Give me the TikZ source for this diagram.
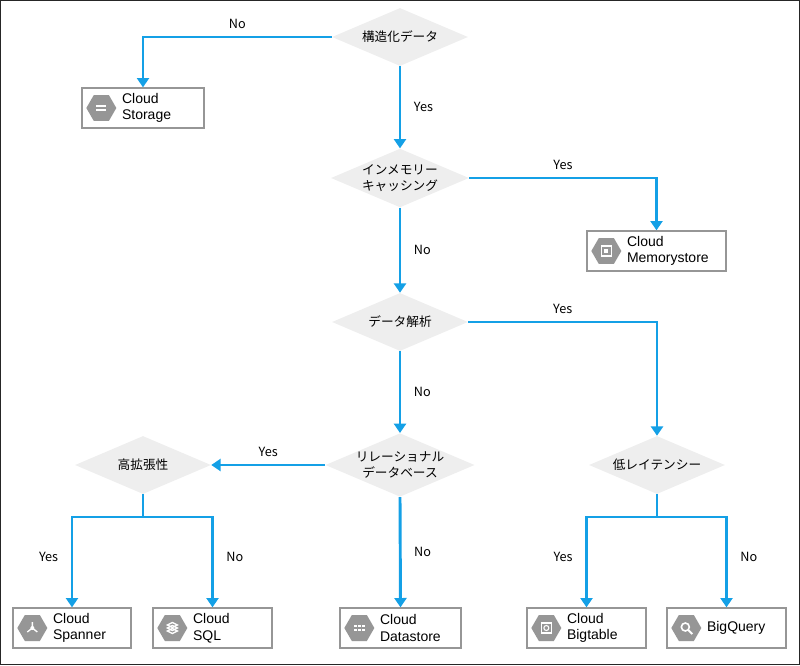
\documentclass[tikz,border=0pt]{standalone}
\usepackage{fontspec}
\setmainfont{Liberation Sans}
\newfontfamily\jp{Noto Sans CJK JP}
\usetikzlibrary{shapes.geometric,arrows.meta}
\definecolor{ln}{RGB}{20,160,230}
\definecolor{dg}{RGB}{238,238,238}
\definecolor{bx}{RGB}{150,150,150}
\definecolor{ic}{RGB}{150,150,150}
\begin{document}
\begin{tikzpicture}[x=0.75pt,y=-0.75pt,
  dia/.style={diamond,aspect=2.35,fill=dg,draw=none,minimum width=136*0.75pt,minimum height=58*0.75pt,inner sep=0pt,font=\jp\fontsize{9.5}{11.5}\selectfont,align=center},
  box/.style={rectangle,draw=bx,line width=1pt,fill=white,minimum width=#1*0.75pt,minimum height=40*0.75pt,inner sep=0pt},
  hex/.style={regular polygon,regular polygon sides=6,shape border rotate=0,fill=ic,minimum size=30*0.75pt,inner sep=0pt},
  lbl/.style={anchor=west,font=\fontsize{10.5}{12.5}\selectfont,align=left},
  yn/.style={black,font=\jp\fontsize{9.5}{11}\selectfont},
  con/.style={ln,line width=2.2pt},
  arr/.style={con,-{Triangle[width=9pt,length=7pt]}}]
\useasboundingbox (0,0) rectangle (800,665);
\draw[line width=1pt,black!85] (0.5,0.5) rectangle (799.5,664.5);
% diamonds
\node[dia] (d1) at (400,37) {構造化データ};
\node[dia] (d2) at (400,178) {インメモリー\\キャッシング};
\node[dia] (d3) at (400,322) {データ解析};
\node[dia] (d4) at (400,465) {リレーショナル\\データベース};
\node[dia] (d5) at (657,465) {低レイテンシー};
\node[dia] (d6) at (143,465) {高拡張性};
% boxes
\node[box=122] (bs) at (143,108) {};
\node[box=139] (bm) at (656.5,251) {};
\node[box=118] (bsp) at (72,628) {};
\node[box=119] (bsq) at (212.5,628) {};
\node[box=121] (bds) at (400.5,628) {};
\node[box=119] (bbt) at (586.5,628) {};
\node[box=119] (bbq) at (726.5,628) {};
% icons + labels
\foreach \b/\t in {bs/{Cloud\\Storage},bm/{Cloud\\Memorystore},bsp/{Cloud\\Spanner},bsq/{Cloud\\SQL},bds/{Cloud\\Datastore},bbt/{Cloud\\Bigtable}}{
  \node[hex] (\b i) at ([xshift=20*0.75pt]\b.west) {};
  \node[lbl] (\b t) at ([xshift=36*0.75pt]\b.west) {\t};
}
\node[hex] (bbqi) at ([xshift=20*0.75pt]bbq.west) {};
\node[lbl] (bbqt) at ([xshift=36*0.75pt]bbq.west) {BigQuery};
% icon glyphs
\fill[white] ([shift={(-5,-3)}]bsi.center) rectangle ([shift={(5,-1)}]bsi.center);
\fill[white] ([shift={(-5,1)}]bsi.center) rectangle ([shift={(5,3)}]bsi.center);
\draw[white,line width=1pt] ([shift={(-5,-5)}]bmi.center) rectangle ([shift={(5,5)}]bmi.center);
\fill[white] ([shift={(-2,-2)}]bmi.center) rectangle ([shift={(2,2)}]bmi.center);
\draw[white,line width=1pt] (bspi.center) -- ++(0,-6) (bspi.center) -- ++(-5,4) (bspi.center) -- ++(5,4);
\fill[white] (bspi.center) circle (2);
\foreach \dy in {-3,0,3}{\draw[white,line width=1pt] ([shift={(-5,\dy)}]bsqi.center) -- ++(5,-2.5) -- ++(5,2.5) -- ++(-5,2.5) -- cycle;}
\foreach \dx in {-4,0,4}{\foreach \dy in {-2,2}{\fill[white] ([shift={(\dx-1.3,\dy-1.3)}]bdsi.center) rectangle ++(2.6,2.6);}}
\draw[white,line width=1pt] ([shift={(-5,-5)}]bbti.center) -- ++(10,0) -- ++(0,10) -- ++(-10,0) -- cycle;
\draw[white,line width=0.8pt] (bbti.center) circle (2.5);
\draw[white,line width=1.2pt] ([shift={(-1,-1)}]bbqi.center) circle (4);
\draw[white,line width=1.5pt] ([shift={(2,2)}]bbqi.center) -- ++(4,4);
% connectors
\draw[arr] (d1.west) -| (bs.north) node[pos=0.25,above=2pt,yn] {No};
\draw[arr] (d1.south) -- (d2.north) node[midway,right=6pt,yn] {Yes};
\draw[arr] (d2.east) -| (bm.north) node[pos=0.25,above=2pt,yn] {Yes};
\draw[arr] (d2.south) -- (d3.north) node[midway,right=6pt,yn] {No};
\draw[arr] (d3.east) -| (d5.north) node[pos=0.25,above=2pt,yn] {Yes};
\draw[arr] (d3.south) -- (d4.north) node[midway,right=6pt,yn] {No};
\draw[arr] (d4.west) -- (d6.east) node[midway,above=2pt,yn] {Yes};
\draw[arr] (d4.south) -- (bds.north) node[pos=0.5,right=6pt,yn] {No};
\coordinate (j6) at (143,517);
\coordinate (j5) at (657,517);
\draw[con] (d6.south) -- (j6);
\draw[arr] (j6) -| (bsp.north) node[pos=0.72,left=6pt,yn] {Yes};
\draw[arr] (j6) -| (bsq.north) node[pos=0.72,right=6pt,yn] {No};
\draw[con] (d5.south) -- (j5);
\draw[arr] (j5) -| (bbt.north) node[pos=0.72,left=6pt,yn] {Yes};
\draw[arr] (j5) -| (bbq.north) node[pos=0.72,right=6pt,yn] {No};
\end{tikzpicture}
\end{document}
